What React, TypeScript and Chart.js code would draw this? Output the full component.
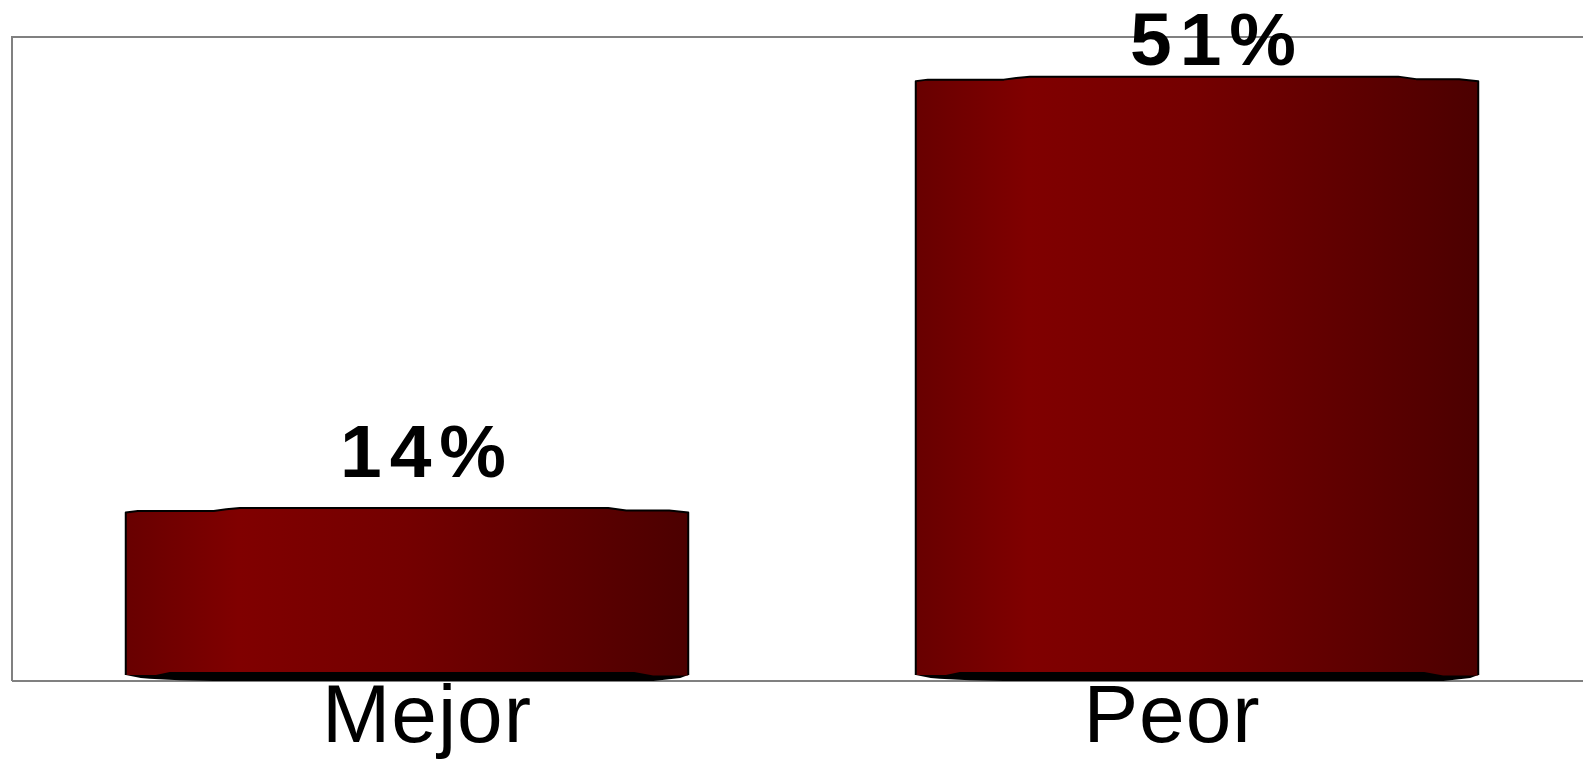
import React, { useEffect, useRef } from "react";
import { Chart, registerables } from "chart.js";

Chart.register(...registerables);

const categories = ["Mejor", "Peor"];
const values = [14, 51];
const valueLabels = ["14%", "51%"];
const categoryLabelShift = [20, -25];

const customDraw = {
  id: "customDraw",
  beforeDatasetsDraw(chart: any) {
    const { ctx, chartArea, width } = chart;
    ctx.save();
    ctx.strokeStyle = "#808080";
    ctx.lineWidth = 2;
    ctx.beginPath();
    ctx.moveTo(chartArea.left, chartArea.bottom);
    ctx.lineTo(chartArea.left, chartArea.top);
    ctx.lineTo(width, chartArea.top);
    ctx.moveTo(chartArea.left, chartArea.bottom);
    ctx.lineTo(width, chartArea.bottom);
    ctx.stroke();
    ctx.restore();
  },
  afterDatasetsDraw(chart: any) {
    const { ctx, chartArea } = chart;
    const meta = chart.getDatasetMeta(0);
    meta.data.forEach((bar: any, i: number) => {
      const { x, y, base, width } = bar.getProps(["x", "y", "base", "width"], true);
      const l = x - width / 2;
      const r = x + width / 2;
      ctx.save();
      // black bottom band
      ctx.fillStyle = "#000";
      ctx.beginPath();
      ctx.moveTo(l, base + 4);
      ctx.lineTo(l + 15, base + 7);
      ctx.quadraticCurveTo(l + 50, base + 10, l + 100, base + 10);
      ctx.lineTo(r - 35, base + 10);
      ctx.lineTo(r - 8, base + 7);
      ctx.lineTo(r, base + 4);
      ctx.lineTo(r, base - 2);
      ctx.lineTo(l, base - 2);
      ctx.closePath();
      ctx.fill();
      // body
      const g = ctx.createLinearGradient(l, 0, r, 0);
      g.addColorStop(0, "#680000");
      g.addColorStop(0.2, "#800000");
      g.addColorStop(0.5, "#740000");
      g.addColorStop(1, "#4c0000");
      ctx.fillStyle = g;
      ctx.beginPath();
      ctx.moveTo(l, y + 4.5);
      ctx.lineTo(l + 12, y + 3);
      ctx.lineTo(l + 88, y + 3);
      ctx.quadraticCurveTo(l + 100, y + 1, l + 114, y);
      ctx.lineTo(r - 80, y);
      ctx.lineTo(r - 62, y + 2.5);
      ctx.lineTo(r - 19, y + 2.5);
      ctx.lineTo(r, y + 4.5);
      ctx.lineTo(r, base + 4.5);
      ctx.lineTo(r - 35, base + 4.5);
      ctx.lineTo(r - 54, base + 1);
      ctx.lineTo(l + 44, base + 1);
      ctx.lineTo(l + 30, base + 4);
      ctx.lineTo(l, base + 4);
      ctx.closePath();
      ctx.fill();
      // outline top and sides
      ctx.strokeStyle = "#000";
      ctx.lineWidth = 2;
      ctx.lineJoin = "round";
      ctx.beginPath();
      ctx.moveTo(l, base + 4);
      ctx.lineTo(l, y + 4.5);
      ctx.lineTo(l + 12, y + 3);
      ctx.lineTo(l + 88, y + 3);
      ctx.quadraticCurveTo(l + 100, y + 1, l + 114, y);
      ctx.lineTo(r - 80, y);
      ctx.lineTo(r - 62, y + 2.5);
      ctx.lineTo(r - 19, y + 2.5);
      ctx.lineTo(r, y + 4.5);
      ctx.lineTo(r, base + 4);
      ctx.stroke();
      ctx.restore();

      // value label
      ctx.save();
      ctx.fillStyle = "#000";
      ctx.font = "bold 75px 'Liberation Sans', Arial, sans-serif";
      (ctx as any).letterSpacing = "8px";
      ctx.textAlign = "center";
      ctx.textBaseline = "alphabetic";
      const by = Math.max(y - 31, chartArea.top + 28);
      ctx.fillText(valueLabels[i], x + 20, by);
      ctx.restore();

      // category label
      ctx.save();
      ctx.fillStyle = "#000";
      ctx.font = "82px 'Liberation Sans', Arial, sans-serif";
      (ctx as any).letterSpacing = "1px";
      ctx.textAlign = "center";
      ctx.textBaseline = "alphabetic";
      ctx.fillText(categories[i], x + categoryLabelShift[i], chartArea.bottom + 61);
      ctx.restore();
    });
  },
};

export default function App() {
  const ref = useRef<HTMLCanvasElement | null>(null);
  useEffect(() => {
    if (!ref.current) return;
    const chart = new Chart(ref.current, {
      type: "bar",
      data: {
        labels: categories,
        datasets: [
          {
            data: values,
            backgroundColor: "rgba(0,0,0,0)",
            borderWidth: 0,
            categoryPercentage: 1,
            barPercentage: 0.712,
          },
        ],
      },
      options: {
        animation: false,
        responsive: true,
        maintainAspectRatio: false,
        layout: { padding: { left: 12, top: 37, right: 8, bottom: 80 } },
        plugins: { legend: { display: false }, tooltip: { enabled: false } },
        scales: {
          x: { display: false },
          y: { display: false, min: -0.85, max: 54.4 },
        },
      },
      plugins: [customDraw],
    });
    return () => chart.destroy();
  }, []);
  return (
    <div style={{ position: "fixed", left: 0, top: 0, width: "100vw", height: "100vh", overflow: "hidden", background: "#fff" }}>
      <div style={{ position: "absolute", left: 0, top: 0, width: 1600, height: 761 }}>
        <canvas ref={ref} />
      </div>
    </div>
  );
}
